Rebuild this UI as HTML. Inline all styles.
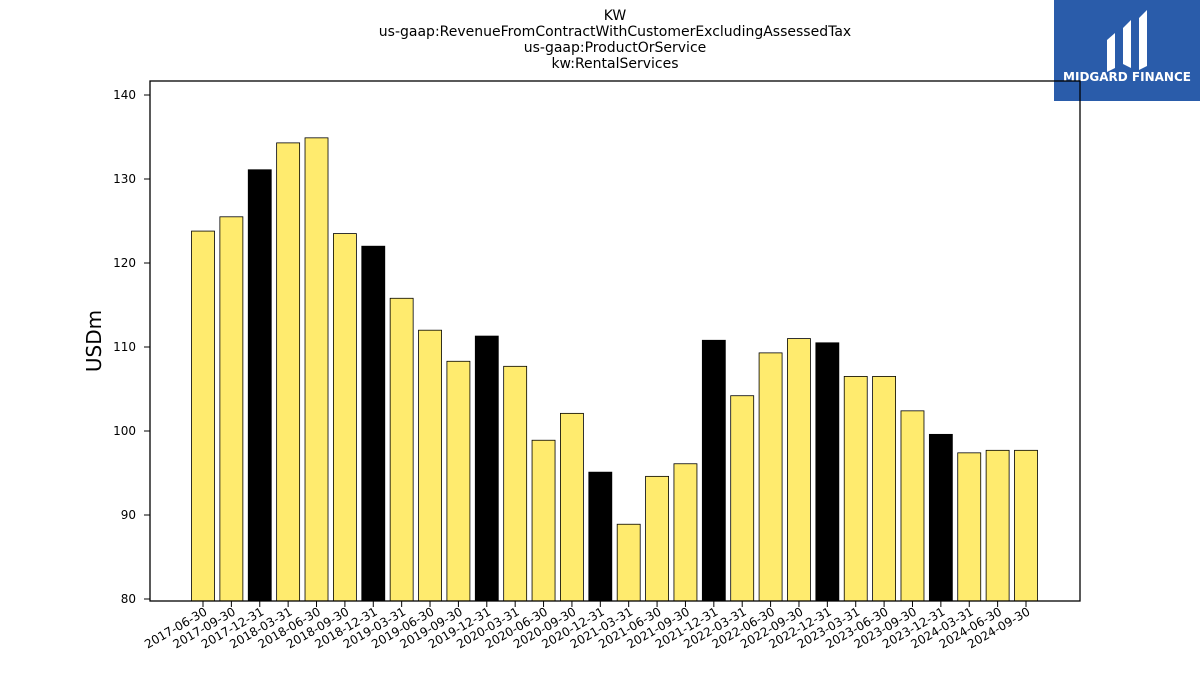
<!DOCTYPE html>
<html><head><meta charset="utf-8"><style>
body{margin:0;background:#fff;font-family:"Liberation Sans","DejaVu Sans",sans-serif}
</style></head><body>
<svg width="1200" height="675" xmlns="http://www.w3.org/2000/svg" id="svg" font-family="DejaVu Sans, Liberation Sans, sans-serif">
<g font-size="14" text-anchor="middle" fill="#000">
<text x="615" y="20">KW</text>
<text x="615" y="36">us-gaap:RevenueFromContractWithCustomerExcludingAssessedTax</text>
<text x="615" y="52">us-gaap:ProductOrService</text>
<text x="615" y="68">kw:RentalServices</text>
</g>
<g>
<rect x="1054" y="0" width="146" height="101" fill="#2a5caa"/>
<path d="M1107 40 L1115 33 L1115 68 L1107 72 Z M1123 28 L1131 20 L1131 68 L1123 64 Z M1139 18 L1147 10 L1147 66 L1139 70 Z" fill="#fff"/>
<text x="1127" y="81" font-size="12" font-weight="bold" fill="#fff" text-anchor="middle">MIDGARD FINANCE</text>
</g>
<text x="101" y="341" font-size="20" text-anchor="middle" transform="rotate(-90 101 341)">USDm</text>
<g id="plot"></g>
<rect x="150" y="81" width="930" height="520" fill="none" stroke="#000" stroke-width="1.3"/>
</svg>
<script>
const categories=["2017-06-30","2017-09-30","2017-12-31","2018-03-31","2018-06-30","2018-09-30","2018-12-31","2019-03-31","2019-06-30","2019-09-30","2019-12-31","2020-03-31","2020-06-30","2020-09-30","2020-12-31","2021-03-31","2021-06-30","2021-09-30","2021-12-31","2022-03-31","2022-06-30","2022-09-30","2022-12-31","2023-03-31","2023-06-30","2023-09-30","2023-12-31","2024-03-31","2024-06-30","2024-09-30"];
const values=[123.8,125.5,131.1,134.3,134.9,123.5,122.0,115.8,112.0,108.3,111.3,107.7,98.9,102.1,95.1,88.9,94.6,96.1,110.8,104.2,109.3,111.0,110.5,106.5,106.5,102.4,99.6,97.4,97.7,97.7];
const yTicks=[80,90,100,110,120,130,140];
const ns="http://www.w3.org/2000/svg";
const g=document.getElementById('plot');
const y=v=>599-(v-80)*8.4;
const x=i=>203+i*(1026-203)/29;
function el(t,a){const e=document.createElementNS(ns,t);for(const k in a)e.setAttribute(k,a[k]);g.appendChild(e);return e;}
yTicks.forEach(t=>{
 const l=el('line',{x1:144,x2:150,y1:y(t),y2:y(t),stroke:'#000'});
 
 
 const tx=el('text',{x:136,y:y(t)+4,'font-size':12,'text-anchor':'end'});
 tx.textContent=t;
 
 
});
categories.forEach((c,i)=>{
 const black=c.endsWith('12-31');
 const b=el('rect',{x:x(i)-11.5,y:y(values[i]),width:23,height:y(79.76)-y(values[i]),fill:black?'#000':'#ffeb6e',stroke:'#000','stroke-width':0.8});
 
 
 const t=el('line',{x1:x(i),x2:x(i),y1:601,y2:607,stroke:'#000'});
 
 
 const tx=el('text',{x:x(i)+5,y:614,'font-size':12,'text-anchor':'end',transform:`rotate(-30 ${x(i)+5} 614)`});
 tx.textContent=c;
 
 
});
</script>
</body></html>
